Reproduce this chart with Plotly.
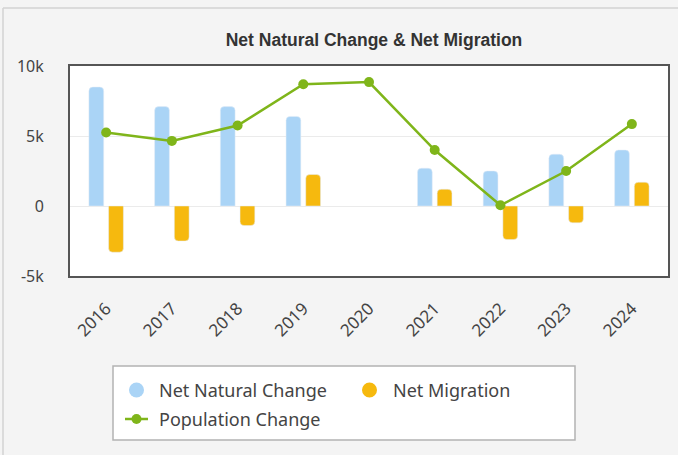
import plotly.graph_objects as go

years = ["2016", "2017", "2018", "2019", "2020", "2021", "2022", "2023", "2024"]
net_natural_change = [8500, 7100, 7100, 6400, None, 2700, 2500, 3700, 4000]
net_migration = [-3300, -2500, -1400, 2250, None, 1200, -2400, -1200, 1700]
population_change = [5250, 4650, 5750, 8700, 8850, 4000, 50, 2500, 5850]
y_tick_vals = [-5000, 0, 5000, 10000]
y_tick_text = ["-5k", "0", "5k", "10k"]
legend_labels = ["Net Natural Change", "Net Migration", "Population Change"]

C_NNC = "#aad4f6"
C_NM = "#f6b90e"
C_POP = "#7fb51a"
FONT = "Noto Sans"

W, H = 678, 455
ML, MR, MT, MB = 70, 10, 66, 179
PW, PH = W - ML - MR, H - MT - MB


def px(x):
    return (x - ML) / PW


def py(y):
    return (H - MB - y) / PH


fig = go.Figure()
fig.add_trace(go.Bar(x=years, y=net_natural_change, name=legend_labels[0],
                     marker=dict(color=C_NNC), showlegend=False))
fig.add_trace(go.Bar(x=years, y=net_migration, name=legend_labels[1],
                     marker=dict(color=C_NM), showlegend=False))
fig.add_trace(go.Scatter(x=years, y=population_change, name=legend_labels[2],
                         mode="lines+markers", line=dict(color=C_POP, width=2.5),
                         marker=dict(color=C_POP, size=10), showlegend=False))

shapes = [
    # card border
    dict(type="line", xref="paper", yref="paper", x0=px(3), x1=px(W + 5),
         y0=py(8), y1=py(8), line=dict(color="#d3d3d3", width=1.5)),
    dict(type="line", xref="paper", yref="paper", x0=px(3), x1=px(3),
         y0=py(8), y1=py(H + 5), line=dict(color="#d3d3d3", width=1.5)),
    # legend box
    dict(type="rect", xref="paper", yref="paper", x0=px(113), x1=px(575),
         y0=py(440), y1=py(366), fillcolor="white",
         line=dict(color="#b3b3b3", width=1.5), layer="below"),
    # legend symbols
    dict(type="circle", xref="paper", yref="paper", x0=px(129), x1=px(144),
         y0=py(397.5), y1=py(382.5), fillcolor=C_NNC, line=dict(width=0)),
    dict(type="circle", xref="paper", yref="paper", x0=px(362), x1=px(377),
         y0=py(397.5), y1=py(382.5), fillcolor=C_NM, line=dict(width=0)),
    dict(type="line", xref="paper", yref="paper", x0=px(125), x1=px(148),
         y0=py(419), y1=py(419), line=dict(color=C_POP, width=2.5)),
    dict(type="circle", xref="paper", yref="paper", x0=px(131.5), x1=px(141.5),
         y0=py(424), y1=py(414), fillcolor=C_POP, line=dict(width=0)),
]

annotations = [
    dict(text=legend_labels[0], x=px(157), y=py(390), xref="paper", yref="paper",
         xanchor="left", yanchor="middle", showarrow=False,
         font=dict(family=FONT, size=18, color="#444")),
    dict(text=legend_labels[1], x=px(391), y=py(390), xref="paper", yref="paper",
         xanchor="left", yanchor="middle", showarrow=False,
         font=dict(family=FONT, size=18, color="#444")),
    dict(text=legend_labels[2], x=px(157), y=py(419), xref="paper", yref="paper",
         xanchor="left", yanchor="middle", showarrow=False,
         font=dict(family=FONT, size=18, color="#444")),
]

fig.update_layout(
    width=W, height=H,
    margin=dict(l=ML, r=MR, t=MT, b=MB, autoexpand=False),
    paper_bgcolor="#f4f4f4", plot_bgcolor="white",
    barmode="group", bargap=0.40, bargroupgap=0.25, barcornerradius=4,
    showlegend=False,
    title=dict(text="<b>Net Natural Change & Net Migration</b>", x=px(374), xref="paper",
               xanchor="center", y=1 - 40 / H, yanchor="middle",
               font=dict(family="Liberation Sans", size=17.5, color="#333")),
    font=dict(family=FONT, color="#444"),
    xaxis=dict(showline=True, mirror=True, linecolor="#555", linewidth=2,
               showgrid=False, tickangle=-45, ticklabelstandoff=14, automargin=False,
               tickfont=dict(family=FONT, size=17, color="#444"), fixedrange=True),
    yaxis=dict(range=[-5000, 10000], tickvals=y_tick_vals, ticktext=y_tick_text,
               showline=True, mirror=True, linecolor="#555", linewidth=2,
               showgrid=True, gridcolor="#ebebeb", gridwidth=1, zeroline=False,
               ticklabelstandoff=21, automargin=False,
               tickfont=dict(family=FONT, size=16, color="#444")),
    shapes=shapes,
    annotations=annotations,
)

fig.write_html("out.html", config={"displayModeBar": False},
               post_script="document.body.style.margin='0';document.body.style.overflow='hidden';")
